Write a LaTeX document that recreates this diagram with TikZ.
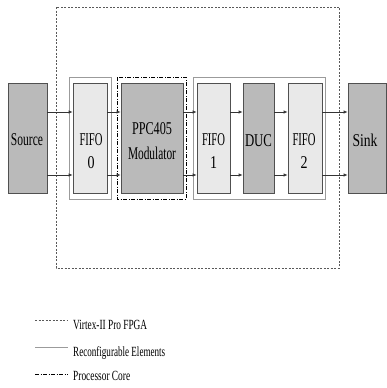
\documentclass[tikz,border=0pt]{standalone}
\usepackage{graphicx}
\usepackage{fontspec}
\setmainfont{Liberation Serif}
\usetikzlibrary{arrows.meta}
\newcommand{\fitw}[2]{\resizebox{#1pt}{\height}{#2}}
\definecolor{darkfill}{RGB}{186,186,186}
\definecolor{lightfill}{RGB}{233,233,233}
\definecolor{edgec}{RGB}{80,80,80}
\definecolor{recon}{RGB}{155,155,155}
\tikzset{
  blk/.style={draw=edgec, line width=0.7pt, inner sep=0pt, minimum height=110pt},
  darkblk/.style={blk, fill=darkfill},
  lightblk/.style={blk, fill=lightfill},
  txt/.style={inner sep=0pt, font=\fontsize{18}{23}\selectfont, align=center},
  arr/.style={draw=black!80, line width=0.7pt, -{Latex[length=4pt,width=3.5pt]}},
  fpga/.style={draw=black!65, line width=0.6pt, dash pattern=on 2pt off 1.5pt},
  recbox/.style={draw=recon, line width=0.8pt},
  procbox/.style={draw=black, line width=0.7pt, dash pattern=on 4pt off 1.5pt on 1pt off 1.5pt},
  legtxt/.style={inner sep=0pt, anchor=base west, font=\fontsize{14}{16}\selectfont}
}
\begin{document}
\begin{tikzpicture}[x=1pt, y=-1pt]
\useasboundingbox (0,0) rectangle (386,388);
% outer FPGA
\draw[fpga] (56,7) rectangle (339,268);
% reconfigurable element boxes and processor box
\draw[recbox] (69,77) rectangle (111,199);
\draw[recbox] (193,77) rectangle (325,199);
\draw[procbox] (117,77) rectangle (186,199);
% blocks
\node[darkblk, minimum width=39pt] (src) at (27.5,138) {};
\node[lightblk, minimum width=34pt] (f0) at (90,138) {};
\node[darkblk, minimum width=62pt] (ppc) at (152,138) {};
\node[lightblk, minimum width=33pt] (f1) at (213.5,138) {};
\node[darkblk, minimum width=31pt] (duc) at (258.5,138) {};
\node[lightblk, minimum width=34pt] (f2) at (305,138) {};
\node[darkblk, minimum width=38pt] (sink) at (367,138) {};
% texts
\node[txt, anchor=base] (tsrc) at (27,145.5) {\fitw{32}{Source}};
\node[txt, anchor=north] (tf0) at (91,133) {\fitw{23}{FIFO}\\\fitw{7}{0}};
\node[txt, anchor=north, font=\fontsize{18}{25}\selectfont] (tppc) at (152,122) {\fitw{40}{PPC405}\\\fitw{48}{Modulator}};
\node[txt, anchor=north] (tf1) at (213.5,133) {\fitw{23}{FIFO}\\\fitw{7}{1}};
\node[txt, anchor=base] (tduc) at (258.5,146) {\fitw{27}{DUC}};
\node[txt, anchor=north] (tf2) at (304,133) {\fitw{23}{FIFO}\\\fitw{7}{2}};
\node[txt, anchor=base] (tsink) at (365,146) {\fitw{25}{Sink}};
% arrows
\foreach \a/\b in {src/f0, f0/ppc, ppc/f1, f1/duc, duc/f2, f2/sink}{
  \draw[arr] ([yshift=26pt]\a.east) -- ([yshift=26pt]\b.west);
  \draw[arr] ([yshift=-37pt]\a.east) -- ([yshift=-37pt]\b.west);
}
% legend
\coordinate (l1a) at (35,320); \coordinate (l1b) at (68,320);
\coordinate (l2a) at (35,347.5); \coordinate (l2b) at (68,347.5);
\coordinate (l3a) at (35,374); \coordinate (l3b) at (68,374);
\draw[fpga] (l1a) -- (l1b);
\draw[recbox] (l2a) -- (l2b);
\draw[procbox] (l3a) -- (l3b);
\node[legtxt] (lg1) at (73,329) {\fitw{74}{Virtex-II Pro FPGA}};
\node[legtxt] (lg2) at (73,356) {\fitw{92}{Reconfigurable Elements}};
\node[legtxt] (lg3) at (73,380) {\fitw{57}{Processor Core}};
\end{tikzpicture}
\end{document}
